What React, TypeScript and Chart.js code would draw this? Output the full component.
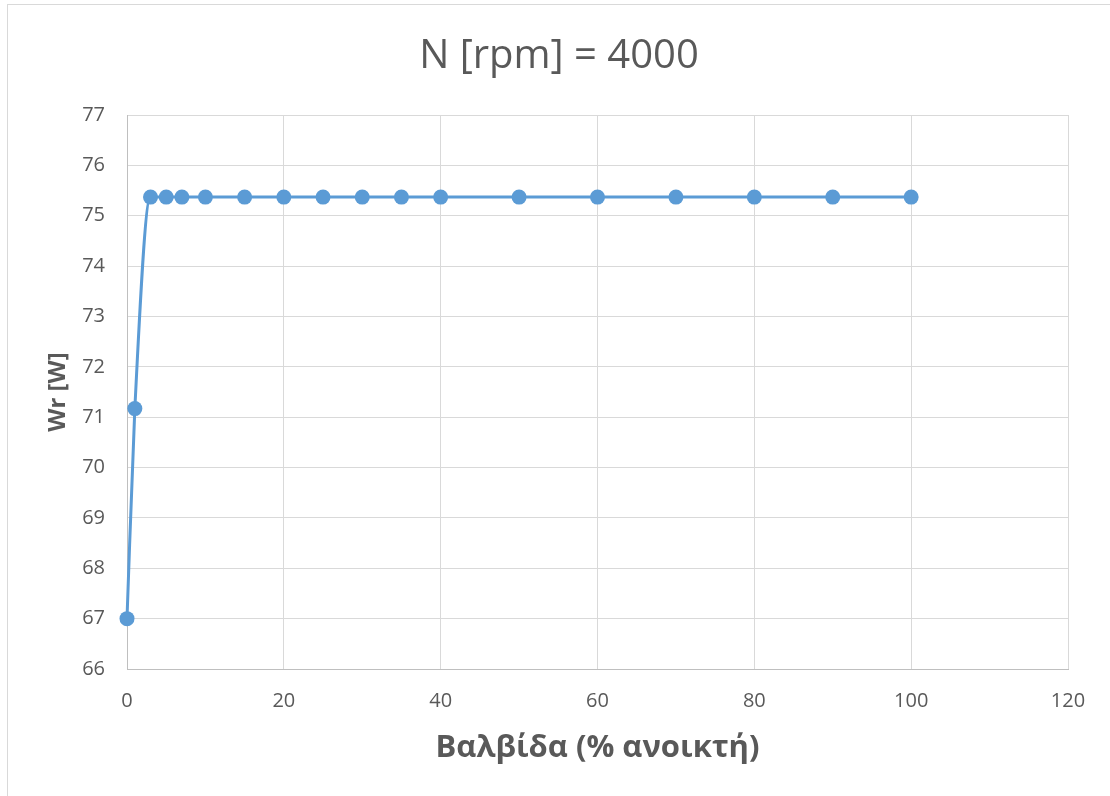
import React, { useEffect, useRef } from "react";
import { Chart, registerables } from "chart.js";

Chart.register(...registerables);

const titleText = "N [rpm] = 4000";
const xTitle = "Βαλβίδα (% ανοικτή)";
const yTitle = "Wr [W]";
const valveOpen = [0, 1, 3, 5, 7, 10, 15, 20, 25, 30, 35, 40, 50, 60, 70, 80, 90, 100];
const wrValues = [67.0, 71.17, 75.37, 75.37, 75.37, 75.37, 75.37, 75.37, 75.37, 75.37, 75.37, 75.37, 75.37, 75.37, 75.37, 75.37, 75.37, 75.37];
const xMin = 0, xMax = 120, xStep = 20;
const yMin = 66, yMax = 77, yStep = 1;

const FONT = "'Open Sans', 'DejaVu Sans', sans-serif";
const TEXT = "#595959";
const GRID = "#d9d9d9";
const AXIS = "#bfbfbf";
const BLUE = "#5b9bd5";

export default function App() {
  const ref = useRef<HTMLCanvasElement>(null);
  useEffect(() => {
    document.body.style.margin = "0";
    document.body.style.overflow = "hidden";
    document.documentElement.style.overflow = "hidden";
    const titlePlugin = {
      id: "topTitle",
      afterDraw(chart: any) {
        const ctx = chart.ctx;
        ctx.save();
        ctx.font = `40px ${FONT}`;
        ctx.fillStyle = TEXT;
        ctx.textAlign = "center";
        ctx.textBaseline = "alphabetic";
        ctx.fillText(titleText, 559, 68);
        ctx.restore();
      },
    };
    const chart = new Chart(ref.current!, {
      type: "line",
      data: {
        datasets: [
          {
            data: valveOpen.map((x, i) => ({ x, y: wrValues[i] })),
            borderColor: BLUE,
            backgroundColor: BLUE,
            borderWidth: 3,
            pointRadius: 7.5,
            pointHoverRadius: 7.5,
            pointBackgroundColor: BLUE,
            pointBorderColor: BLUE,
            pointBorderWidth: 0,
            cubicInterpolationMode: "monotone",
            fill: false,
            clip: false,
          },
        ],
      },
      options: {
        animation: false,
        responsive: false,
        maintainAspectRatio: false,
        layout: { padding: { left: 0, top: 115, right: 42, bottom: 0 } },
        plugins: { legend: { display: false }, title: { display: false }, tooltip: { enabled: false } },
        scales: {
          x: {
            type: "linear",
            min: xMin,
            max: xMax,
            afterFit(scale: any) {
              scale.height = 127;
            },
            ticks: {
              stepSize: xStep,
              color: TEXT,
              font: { family: FONT, size: 20 },
              padding: 20,
              maxRotation: 0,
            },
            grid: {
              color: (c: any) => (c.tick && c.tick.value === xMin ? AXIS : GRID),
              lineWidth: 1,
              drawTicks: false,
            },
            border: { display: true, color: AXIS, width: 1 },
            title: {
              display: true,
              text: xTitle,
              color: TEXT,
              font: { family: FONT, size: 31, weight: "bold" },
              padding: { top: 0, bottom: 29 },
            },
          },
          y: {
            type: "linear",
            min: yMin,
            max: yMax,
            afterFit(scale: any) {
              scale.width = 127;
            },
            ticks: {
              stepSize: yStep,
              color: TEXT,
              font: { family: FONT, size: 20 },
              padding: 22,
            },
            grid: {
              color: (c: any) => (c.tick && c.tick.value === yMin ? AXIS : GRID),
              lineWidth: 1,
              drawTicks: false,
            },
            border: { display: true, color: AXIS, width: 1 },
            title: {
              display: true,
              text: yTitle,
              color: TEXT,
              font: { family: FONT, size: 24, weight: "bold" },
              padding: { top: 44, bottom: 0 },
            },
          },
        },
      },
      plugins: [titlePlugin],
    });
    return () => chart.destroy();
  }, []);
  return (
    <div>
      <canvas
        ref={ref}
        width={1110}
        height={796}
        style={{ position: "fixed", left: 0, top: 0, width: 1110, height: 796 }}
      />
      <div
        style={{
          position: "fixed",
          left: 7,
          top: 4,
          width: 1110,
          height: 800,
          border: "1px solid #d9d9d9",
          boxSizing: "border-box",
          pointerEvents: "none",
        }}
      />
    </div>
  );
}
